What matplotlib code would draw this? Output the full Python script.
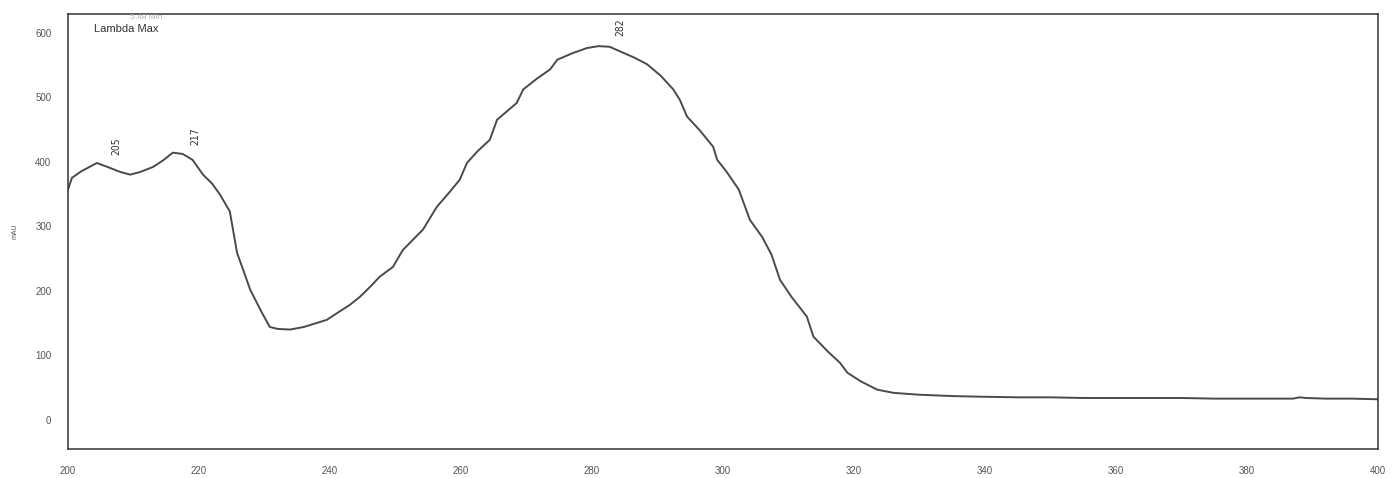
import matplotlib
matplotlib.use('Agg')
import matplotlib.pyplot as plt

# wavelength (nm) and absorbance (mAU)
wl = [200, 200.6, 202, 204.4, 206, 208, 209.5, 211, 213, 214.5, 216, 217.5, 219, 220.6,
      222, 223.2, 224.7, 225.8, 227, 227.8, 229.5, 230.8, 232, 233.9, 236, 239.5, 241,
      243, 244.6, 246.1, 247.6, 249.6, 251.1, 254.2, 256.3, 258, 259.8, 260.9, 262.5,
      264.4, 265.5, 268.5, 269.5, 271.5, 273.6, 274.7, 277, 279.2, 281, 282.7, 284.7,
      286.5, 288.4, 290.5, 292.4, 293.4, 294.5, 296.5, 298.5, 299.1, 300.5, 302.4, 303.7,
      304.1, 306, 307.4, 308.7, 310.5, 312.8, 313.8, 316, 317.9, 319, 321, 323.5, 326,
      330, 335, 339.2, 345.3, 350, 355, 360, 365, 370, 375, 380, 385, 387, 388, 389, 392,
      396, 400]
mau = [357, 375, 385, 398, 392, 384, 380, 384, 392, 402, 414, 412, 403, 380,
       366, 349, 323, 259, 225, 202, 168, 144, 141, 140, 144, 155, 165,
       178, 191, 206, 222, 237, 263, 295, 330, 350, 372, 398, 416,
       434, 465, 491, 512, 528, 543, 558, 568, 576, 579, 578, 569,
       561, 551, 533, 512, 496, 470, 448, 423, 403, 385, 357, 321,
       310, 283, 256, 217, 190, 160, 129, 106, 88, 73, 60, 47, 42,
       39, 37, 36, 35, 35, 34, 34, 34, 34, 33, 33, 33, 33, 35, 34, 33,
       33, 32]

# peak markers as printed by the instrument (label sits just right of the peak)
peak_x = [205, 217, 282]
peak_labels = ['205', '217', '282']
peak_y = [411, 426, 594]

xticks = [200, 220, 240, 260, 280, 300, 320, 340, 360, 380, 400]
yticks = [0, 100, 200, 300, 400, 500, 600]

plt.rcParams['font.family'] = ['Liberation Sans', 'DejaVu Sans']

fig = plt.figure(figsize=(14, 4.78), dpi=100)
ax = fig.add_axes([0.0486, 0.0607, 0.9357, 0.9103])

ax.plot(wl, mau, color='#4a4a4a', linewidth=1.4)

for px, py, lab in zip(peak_x, peak_y, peak_labels):
    ax.text(px + 2.4, py, lab, rotation=90, ha='center', va='bottom', fontsize=7.5,
            color='#333333', family='DejaVu Sans', fontstretch='condensed')

ax.text(204, 598, 'Lambda Max', fontsize=8, color='#333333', va='bottom')
ax.text(209.5, 618, '5.48 Min', fontsize=6, color='#b0b0b0', va='bottom')

ax.set_xlim(200, 400)
ax.set_ylim(-45, 629)
ax.set_xticks(xticks)
ax.set_yticks(yticks)
ax.tick_params(length=0, labelsize=7, labelcolor='#555555')
ax.tick_params(axis='y', pad=12)
ax.tick_params(axis='x', pad=12)
ax.set_ylabel('mAU', fontsize=5, color='#555555', labelpad=12)

for s in ax.spines.values():
    s.set_color('#333333')
    s.set_linewidth(1.1)

fig.savefig('out.png', dpi=100)
